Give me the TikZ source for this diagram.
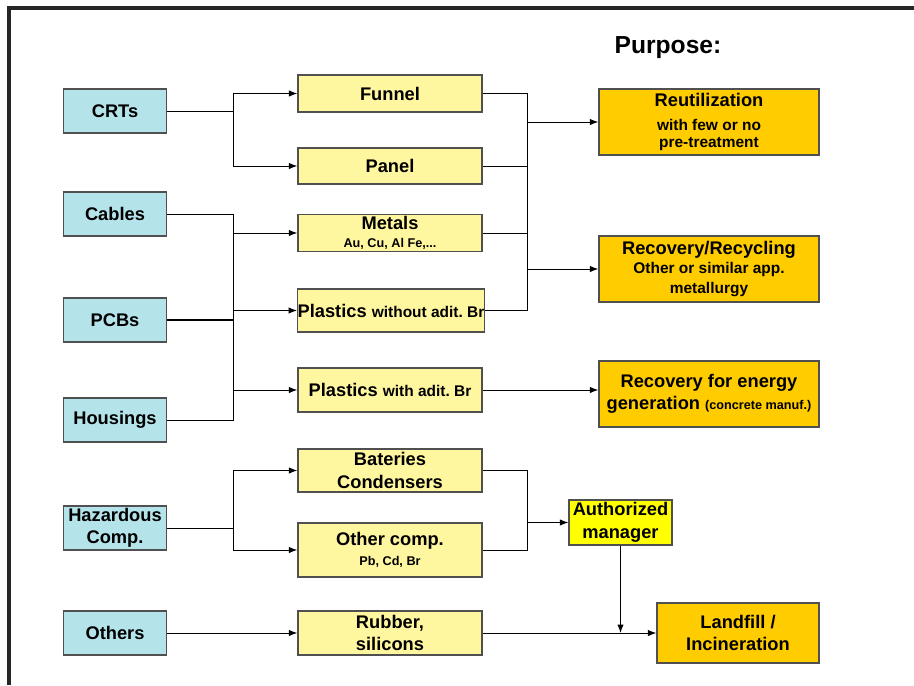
\documentclass[tikz,border=0pt]{standalone}
\usepackage{fontspec}
\setmainfont{Liberation Sans}
\usepackage{tikz}
\usepackage{xcolor}
\usetikzlibrary{positioning, arrows.meta}

\definecolor{srcblue}{HTML}{B4E4EA}
\definecolor{partyellow}{HTML}{FFF6A0}
\definecolor{goalorange}{HTML}{FFCC00}
\definecolor{mgryellow}{HTML}{FFFF00}
\definecolor{boxline}{HTML}{505050}

\newcommand{\lblbig}{\fontsize{13}{16}\selectfont}
\newcommand{\lblmid}{\fontsize{11}{13}\selectfont}
\newcommand{\lblsmall}{\fontsize{9}{11}\selectfont}

\tikzset{
    box/.style={draw=boxline, line width=0.8pt, inner sep=1pt, align=center, font=\bfseries\lblbig},
    srcbox/.style={box, fill=srcblue, minimum width=2.575cm, minimum height=1.1cm},
    partbox/.style={box, fill=partyellow, minimum width=4.6cm, minimum height=0.925cm},
    goalbox/.style={box, fill=goalorange, minimum width=5.5cm, minimum height=1.65cm},
    mgrbox/.style={box, fill=mgryellow, minimum width=2.575cm, minimum height=1.125cm},
    link/.style={line width=0.7pt},
    >={Latex[length=6pt, width=4.5pt]}
}

\begin{document}
\begin{tikzpicture}[x=0.025cm, y=-0.025cm]
        \useasboundingbox (0, 0) rectangle (914, 685);
        \draw[line width=2.2pt, black!85] (9, 685) -- (9, 8) -- (914, 8);

        \node[srcbox] at (115, 111) (crts) {CRTs};
        \node[srcbox] at (115, 214) (cables) {Cables};
        \node[srcbox] at (115, 320) (pcbs) {PCBs};
        \node[srcbox] at (115, 420) (housings) {Housings};
        \node[srcbox] at (115, 528) (hazard) {Hazardous\\Comp.};
        \node[srcbox] at (115, 633) (others) {Others};

        \node[partbox] at (390, 93.5) (funnel) {Funnel};
        \node[partbox, minimum height=0.9cm] at (390, 166) (panel) {Panel};
        \node[partbox, minimum height=0.9cm] at (390, 233) (metals) {Metals\\[-3pt]{\lblsmall Au, Cu, Al Fe,...}};
        \node[partbox, minimum height=1.075cm, inner xsep=0pt] at (391, 310.5) (plainbr) {Plastics {\lblmid without adit.\ Br}};
        \node[partbox, minimum height=1.1cm] at (390, 390) (plbr) {Plastics {\lblmid with adit.\ Br}};
        \node[partbox, minimum height=1.075cm] at (390, 470.5) (bateries) {Bateries\\Condensers};
        \node[partbox, minimum height=1.35cm] at (390, 550) (othercomp) {Other comp.\\[-2pt]{\lblsmall Pb, Cd, Br}};
        \node[partbox, minimum height=1.1cm] at (390, 633) (rubber) {Rubber,\\silicons};

        \node[font=\bfseries\fontsize{17.5}{20}\selectfont] at (668, 48) (purpose) {Purpose:};
        \node[goalbox] at (709, 122) (reuse) {Reutilization\\[1pt]{\lblmid with few or no}\\[-4pt]{\lblmid pre-treatment}};
        \node[goalbox] at (709, 269) (recycle) {Recovery/Recycling\\[-2pt]{\lblmid Other or similar app.}\\[-2pt]{\lblmid metallurgy}};
        \node[goalbox] at (709, 394) (energy) {Recovery for energy\\generation {\lblsmall (concrete manuf.)}};
        \node[mgrbox] at (620.5, 522.5) (manager) {Authorized\\manager};
        \node[goalbox, minimum width=4.05cm, minimum height=1.5cm] at (738, 633) (landfill) {Landfill /\\Incineration};

        \coordinate (split) at (233, 0);
        \coordinate (merge) at (527, 0);

        \draw[link] (crts.east) -- (crts.east -| split);
        \draw[link, ->] (crts.east -| split) |- (funnel.west);
        \draw[link, ->] (crts.east -| split) |- (panel.west);

        \draw[link] (cables.east) -| (split |- housings.east) -- (housings.east);
        \draw[line width=1.2pt] (pcbs.east) -- (pcbs.east -| split);
        \draw[link, ->] (split |- metals.west) -- (metals.west);
        \draw[link, ->] (split |- plainbr.west) -- (plainbr.west);
        \draw[link, ->] (split |- plbr.west) -- (plbr.west);

        \draw[link] (funnel.east) -| (merge |- plainbr.east) -- (plainbr.east)
            (panel.east) -- (panel.east -| merge)
            (metals.east) -- (metals.east -| merge);
        \draw[link, ->] (merge |- reuse.west) -- (reuse.west);
        \draw[link, ->] (merge |- recycle.west) -- (recycle.west);
        \draw[link, ->] (plbr.east) -- (plbr.east -| energy.west);

        \draw[link] (hazard.east) -- (hazard.east -| split);
        \draw[link, ->] (hazard.east -| split) |- (bateries.west);
        \draw[link, ->] (hazard.east -| split) |- (othercomp.west);
        \draw[link] (bateries.east) -| (merge |- othercomp.east) -- (othercomp.east);
        \draw[link, ->] (merge |- manager.west) -- (manager.west);

        \draw[link, ->] (others) -- (rubber);
        \draw[link, ->] (rubber) -- (landfill);
        \draw[link, ->] (manager.south) -- (manager.south |- rubber.east);
\end{tikzpicture}
\end{document}
